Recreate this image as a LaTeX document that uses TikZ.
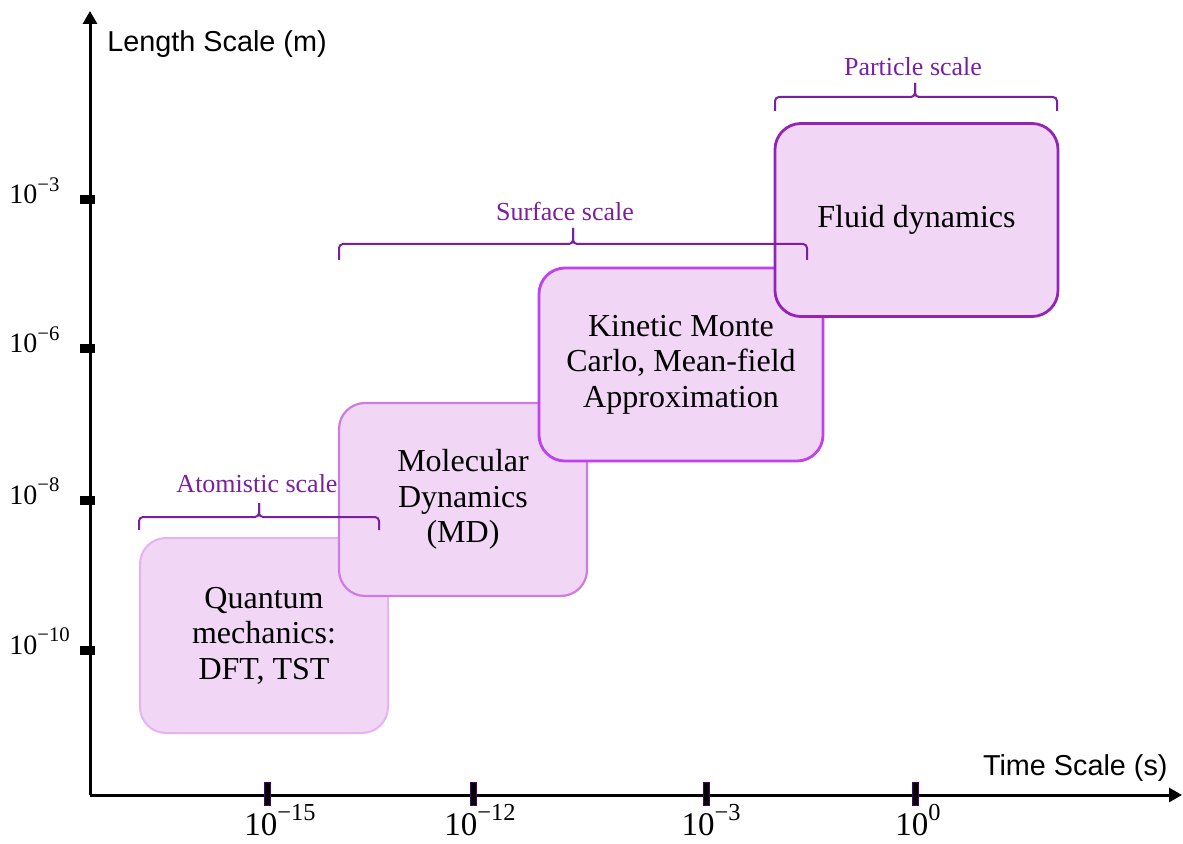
\documentclass[tikz,border=0pt]{standalone}
\usepackage{fontspec}
\usepackage{graphicx}
\setmainfont{Liberation Serif}
\newfontfamily\labelsans{Liberation Sans}
\usetikzlibrary{arrows.meta}
\definecolor{boxfill}{HTML}{F1D6F6}
\definecolor{qborder}{HTML}{E6B2F2}
\definecolor{mdborder}{HTML}{CD7DE2}
\definecolor{kmcborder}{HTML}{C042EE}
\definecolor{fluidborder}{HTML}{9324B5}
\definecolor{scalepurple}{HTML}{7A1FA2}
\definecolor{tickpurple}{HTML}{4B0070}
\newcommand{\pw}[1]{10\raisebox{0.45em}{\scalebox{0.74}{#1}}}
\tikzset{
  modelbox/.style={draw, fill=boxfill, rounded corners=13pt, align=center,
    font=\fontsize{16}{17.75}\selectfont, inner sep=0pt,
    minimum width=124pt, minimum height=96.5pt},
  axisline/.style={line width=1.5pt, -{Triangle[length=6.5pt,width=7pt]}},
  bracestyle/.style={draw=scalepurple, line width=1pt, rounded corners=2pt},
  scalelabel/.style={text=scalepurple, font=\fontsize{13}{15}\selectfont, anchor=base, inner sep=0pt},
  axislabel/.style={font=\labelsans\fontsize{14.4}{16}\selectfont, inner sep=0pt},
  ylab/.style={font=\fontsize{14}{16}\selectfont, anchor=base west, inner sep=0pt},
  xlab/.style={font=\fontsize{16.5}{18}\selectfont, anchor=base, inner sep=0pt},
  ytick/.style={fill=black},
  xtick/.style={fill=black, draw=tickpurple, line width=0.4pt}
}
\newcommand{\mybrace}[6]{%
  \draw[bracestyle] (#1,#5) -- (#1,#4) -- (#3,#4) -- (#3,#6);
  \draw[bracestyle] (#2,#5) -- (#2,#4) -- (#3,#4) -- (#3,#6);}
\begin{document}
\begin{tikzpicture}[x=0.5pt,y=-0.5pt]
\useasboundingbox (0,0) rectangle (1183,844);
% axes
\coordinate (O) at (90,795);
\coordinate (ytop) at (90,11);
\coordinate (xend) at (1182,795);
\draw[axisline] (O) -- (ytop);
\draw[axisline] (O) -- (xend);
% y ticks
\foreach \yy in {200,349,500,650} {\fill[ytick] (80,\yy-4.5) rectangle (95,\yy+4.5);}
% x ticks
\foreach \xx in {267,473,706,915} {\filldraw[xtick] (\xx-3,782) rectangle (\xx+3,805);}
% axis titles
\node[axislabel, anchor=base west] (ytitle) at (107,52) {Length Scale (m)};
\node[axislabel, anchor=base east] (xtitle) at (1168,775) {Time Scale (s)};
% y tick labels
\node[ylab] (y3) at (9,204) {\pw{−3}};
\node[ylab] (y6) at (9,353) {\pw{−6}};
\node[ylab] (y8) at (9,504) {\pw{−8}};
\node[ylab] (y10) at (9,654) {\pw{−10}};
% x tick labels
\node[xlab] (x15) at (280,835) {\pw{−15}};
\node[xlab] (x12) at (480,835) {\pw{−12}};
\node[xlab] (x3) at (711,835) {\pw{−3}};
\node[xlab] (x0) at (918,835) {\pw{0}};
% boxes
\node[modelbox, draw=qborder, line width=1pt, minimum width=124pt, minimum height=97.5pt] (qm) at (264,635.5) {Quantum\\mechanics:\\DFT, TST};
\node[modelbox, draw=mdborder, line width=1.1pt, minimum width=124pt, minimum height=96.5pt] (md) at (463,499.5) {Molecular\\Dynamics\\(MD)};
\node[modelbox, draw=kmcborder, line width=1.4pt, minimum width=142pt, minimum height=96.5pt] (kmc) at (681,364.5) {Kinetic Monte\\Carlo, Mean-field\\Approximation};
\node[modelbox, draw=fluidborder, line width=1.4pt, minimum width=141.5pt, minimum height=96.5pt] (fluid) at (916.5,220) {Fluid dynamics};
% braces
\mybrace{139}{379}{259}{517}{530}{503}
\mybrace{339}{807}{573}{244}{260}{228}
\mybrace{775}{1057}{915}{97}{111}{83}
\node[scalelabel] (atom) at (257,493) {Atomistic scale};
\node[scalelabel] (surf) at (565,221) {Surface scale};
\node[scalelabel] (part) at (913,76) {Particle scale};
\end{tikzpicture}
\end{document}
